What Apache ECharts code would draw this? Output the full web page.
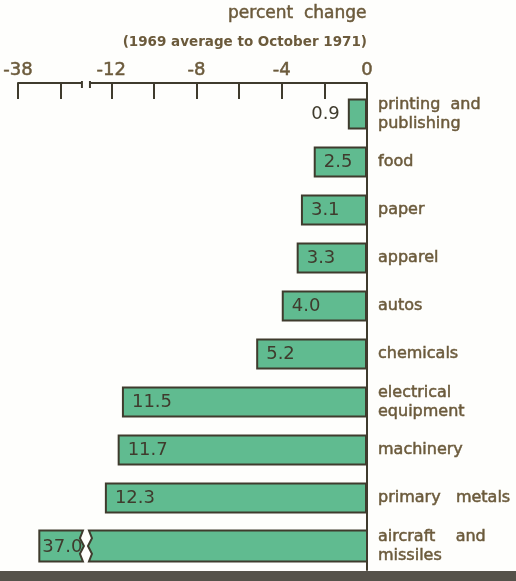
<!DOCTYPE html>
<html>
<head>
<meta charset="utf-8">
<script src="https://cdn.jsdelivr.net/npm/echarts@6/dist/echarts.min.js"></script>
<style>
  html, body { margin: 0; padding: 0; background: #fefefc; }
  #chart { width: 516px; height: 581px; }
</style>
</head>
<body>
<div id="chart"></div>
<script>
// Industries, top to bottom
const categories = [
  'printing  and\npublishing', 'food', 'paper', 'apparel', 'autos',
  'chemicals', 'electrical\nequipment', 'machinery', 'primary   metals',
  'aircraft    and\nmissiles'
];
// Percent change in employment, 1969 average to October 1971
const changes = [-0.9, -2.5, -3.1, -3.3, -4.0, -5.2, -11.5, -11.7, -12.3, -37.0];

// Axis ticks and labels (the axis is broken between -35 and -13)
const tickValues = [-38, -36, -12, -10, -8, -6, -4, -2, 0];
const labelValues = [-38, -12, -8, -4, 0];
const axisBreak = { start: -35, end: -13 };

const TEXT = '#6b5a3b';
const INK = '#3f3b2d';
const FILL = '#60bb90';
const BG = '#fefefc';
const FONT = 'DejaVu Sans';

const chart = echarts.init(document.getElementById('chart'), null, { renderer: 'canvas' });

const fmt = v => Math.abs(v).toFixed(1);

// Bars that fit on the unbroken part of the axis
const barData = changes.map(v => {
  if (v < axisBreak.end) return '-';
  const item = { value: v };
  if (Math.abs(v) < 2) item.label = { position: 'left', distance: 8 };
  return item;
});
// Bars that cross the break are drawn in two pieces
const brokenData = changes
  .map((v, i) => (v < axisBreak.end ? [v, i] : null))
  .filter(d => d);

function renderBroken(params, api) {
  const v = api.value(0), idx = api.value(1);
  const p0 = api.coord([v, idx]);
  const pS = api.coord([axisBreak.start, idx]);
  const pE = api.coord([axisBreak.end, idx]);
  const pZ = api.coord([0, idx]);
  const h = 31, top = p0[1] - h / 2, bot = p0[1] + h / 2, a = 3;
  const style = { fill: FILL, stroke: INK, lineWidth: 2 };
  const xs = pS[0] + 1, xe = pE[0] - 1;
  const leftPiece = [
    [p0[0], top], [xs, top], [xs - a, top + h * 0.25], [xs + 1, top + h * 0.5],
    [xs - a, top + h * 0.75], [xs, bot], [p0[0], bot]
  ];
  const rightPiece = [
    [xe, top], [pZ[0], top], [pZ[0], bot], [xe, bot], [xe + a, top + h * 0.75],
    [xe - 1, top + h * 0.5], [xe + a, top + h * 0.25]
  ];
  return {
    type: 'group',
    children: [
      { type: 'polygon', shape: { points: leftPiece }, style },
      { type: 'polygon', shape: { points: rightPiece }, style },
      {
        type: 'text',
        style: {
          text: fmt(v), x: p0[0] + 3, y: p0[1] + 1,
          verticalAlign: 'middle', align: 'left',
          fill: INK, font: '18px "' + FONT + '"'
        }
      }
    ]
  };
}

// Short vertical marks at both ends of the axis break
function renderBreakMarks(params, api) {
  const sys = params.coordSys;
  const yAxisLine = sys.y - 7;
  const s = api.coord([axisBreak.start, 0])[0];
  const e = api.coord([axisBreak.end, 0])[0];
  const mk = x => ({
    type: 'line',
    shape: { x1: x, y1: yAxisLine - 2, x2: x, y2: yAxisLine + 5 },
    style: { stroke: INK, lineWidth: 2 }
  });
  return {
    type: 'group',
    children: [
      { type: 'rect', shape: { x: s, y: yAxisLine - 3, width: e - s, height: 6 }, style: { fill: BG } },
      mk(s), mk(e)
    ]
  };
}

const heavy = { textBorderColor: TEXT, textBorderWidth: 0.5 };

chart.setOption({
  backgroundColor: BG,
  animation: false,
  textStyle: { fontFamily: FONT },
  title: [
    {
      text: 'percent  change',
      right: 149, top: 4, padding: 0,
      textStyle: Object.assign({ color: TEXT, fontSize: 17, fontWeight: 'normal', lineHeight: 20, fontFamily: FONT }, heavy)
    },
    {
      text: '(1969 average to October 1971)',
      right: 149, top: 34, padding: 0,
      textStyle: { color: TEXT, fontSize: 13.5, fontWeight: 'bold', lineHeight: 16, fontFamily: FONT }
    }
  ],
  grid: { left: 18, right: 149, top: 90, bottom: 11, containLabel: false },
  xAxis: {
    type: 'value',
    position: 'top',
    offset: 7,
    min: -38, max: 0,
    breaks: [{ start: axisBreak.start, end: axisBreak.end, gap: '2.3%' }],
    breakArea: { show: false },
    axisLine: { show: true, lineStyle: { color: INK, width: 2 } },
    axisTick: { show: true, inside: true, length: 16, customValues: tickValues, lineStyle: { color: INK, width: 2 } },
    axisLabel: Object.assign({
      show: true, customValues: labelValues, margin: 4,
      color: TEXT, fontSize: 18, fontFamily: FONT,
      formatter: v => String(v)
    }, heavy),
    splitLine: { show: false }
  },
  yAxis: {
    type: 'category',
    data: categories,
    inverse: true,
    position: 'right',
    axisLine: { show: true, onZero: false, lineStyle: { color: INK, width: 2 } },
    axisTick: { show: false },
    axisLabel: Object.assign({ color: TEXT, fontSize: 16, lineHeight: 19, align: 'left', margin: 11, fontFamily: FONT }, heavy)
  },
  series: [
    {
      type: 'bar',
      data: barData,
      barWidth: 31,
      itemStyle: { color: FILL, borderColor: INK, borderWidth: 2 },
      label: {
        show: true, position: 'insideLeft', distance: 10,
        color: INK, fontSize: 18, fontFamily: FONT,
        formatter: p => fmt(p.value)
      },
      z: 2
    },
    {
      type: 'custom',
      data: brokenData,
      renderItem: renderBroken,
      encode: { x: 0, y: 1 },
      z: 3
    },
    {
      type: 'custom',
      data: [[0, 0]],
      renderItem: renderBreakMarks,
      clip: false,
      silent: true,
      z: 4
    }
  ],
  graphic: [
    { type: 'rect', left: 0, bottom: 0, shape: { width: 516, height: 10 }, style: { fill: '#55524a' } }
  ]
});
</script>
</body>
</html>
